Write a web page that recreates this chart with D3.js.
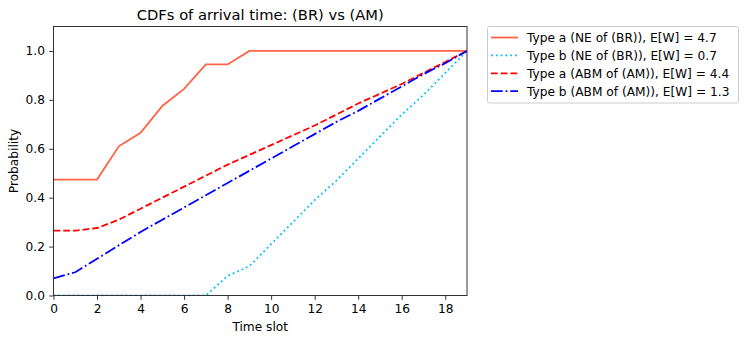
<!DOCTYPE html>
<html>
<head>
<meta charset="utf-8">
<script src="https://cdn.jsdelivr.net/npm/d3@7"></script>
<style>
  body { margin: 0; background: #fff; }
  svg { display: block; font-family: "DejaVu Sans", sans-serif; }
</style>
</head>
<body>
<svg id="chart" width="748" height="342"></svg>
<script>
const slots = d3.range(0, 20);
const typeA_NE  = [0.474, 0.474, 0.474, 0.61, 0.665, 0.775, 0.845, 0.945, 0.945, 1, 1, 1, 1, 1, 1, 1, 1, 1, 1, 1];
const typeB_NE  = [0, 0, 0, 0, 0, 0, 0, 0, 0.08, 0.12, 0.21, 0.30, 0.39, 0.47, 0.56, 0.65, 0.74, 0.82, 0.91, 1.0];
const typeA_ABM = [0.265, 0.265, 0.276, 0.31, 0.355, 0.40, 0.445, 0.49, 0.535, 0.575, 0.615, 0.655, 0.695, 0.74, 0.785, 0.825, 0.865, 0.91, 0.955, 1.0];
const typeB_ABM = [0.07, 0.095, 0.15, 0.205, 0.26, 0.31, 0.36, 0.41, 0.46, 0.51, 0.56, 0.61, 0.66, 0.71, 0.755, 0.805, 0.855, 0.905, 0.95, 1.0];
const seriesNames = [
  "Type a (NE of (BR)), E[W] = 4.7",
  "Type b (NE of (BR)), E[W] = 0.7",
  "Type a (ABM of (AM)), E[W] = 4.4",
  "Type b (ABM of (AM)), E[W] = 1.3"
];
const xTicks = [0, 2, 4, 6, 8, 10, 12, 14, 16, 18];
const yTicks = [0.0, 0.2, 0.4, 0.6, 0.8, 1.0];

const series = [
  { name: seriesNames[0], values: typeA_NE,  color: "#ff6347", dash: null },
  { name: seriesNames[1], values: typeB_NE,  color: "#00bfff", dash: "1.8,3" },
  { name: seriesNames[2], values: typeA_ABM, color: "#ff0000", dash: "6.8,2.9" },
  { name: seriesNames[3], values: typeB_ABM, color: "#0000ff", dash: "11.7,2.9,1.8,2.9" }
];

const svg = d3.select("#chart");
const L = 53.5, R = 467, T = 26.5, B = 295.5;
const x = d3.scaleLinear().domain([0, 19]).range([L, R]);
const y = d3.scaleLinear().domain([0, 1.1]).range([B, T]);

svg.append("defs").append("clipPath").attr("id", "clip")
  .append("rect").attr("x", L).attr("y", T).attr("width", R - L).attr("height", B - T);

const line = d3.line().x((d, i) => x(slots[i])).y(d => y(d));
const g = svg.append("g").attr("clip-path", "url(#clip)");
series.forEach(s => {
  g.append("path").datum(s.values)
    .attr("d", line)
    .attr("fill", "none")
    .attr("stroke", s.color)
    .attr("stroke-width", 1.8)
    .attr("stroke-dasharray", s.dash);
});

// axes
const xAxis = svg.append("g").attr("transform", `translate(0,${B})`)
  .call(d3.axisBottom(x).tickValues(xTicks).tickSize(4.3).tickPadding(4.3).tickFormat(d3.format("d")));
const yAxis = svg.append("g").attr("transform", `translate(${L},0)`)
  .call(d3.axisLeft(y).tickValues(yTicks).tickSize(4.3).tickPadding(4.3).tickFormat(d3.format(".1f")));
[xAxis, yAxis].forEach(a => {
  a.select(".domain").remove();
  a.selectAll("line").attr("stroke", "#333").attr("stroke-width", 1);
  a.selectAll("text").attr("font-family", "DejaVu Sans").attr("font-size", 12.2).attr("fill", "#000");
});

// frame
svg.append("rect").attr("x", L).attr("y", T).attr("width", R - L).attr("height", B - T)
  .attr("fill", "none").attr("stroke", "#333").attr("stroke-width", 1);

// labels
svg.append("text").attr("x", (L + R) / 2).attr("y", 20).attr("text-anchor", "middle")
  .attr("font-size", 14.7).text("CDFs of arrival time: (BR) vs (AM)");
svg.append("text").attr("x", (L + R) / 2).attr("y", 331).attr("text-anchor", "middle")
  .attr("font-size", 12.2).text("Time slot");
svg.append("text").attr("transform", `translate(18,${(T + B) / 2}) rotate(-90)`).attr("text-anchor", "middle")
  .attr("font-size", 12.2).text("Probability");

// legend
const lg = svg.append("g");
lg.append("rect").attr("x", 487.5).attr("y", 26.5).attr("width", 251).attr("height", 76.5)
  .attr("rx", 2).attr("fill", "#fff").attr("stroke", "#ccc").attr("stroke-width", 1);
series.forEach((s, i) => {
  const yy = 37.5 + i * 17.9;
  lg.append("line").attr("x1", 491).attr("x2", 518).attr("y1", yy).attr("y2", yy)
    .attr("stroke", s.color).attr("stroke-width", 1.8).attr("stroke-dasharray", s.dash);
  lg.append("text").attr("x", 527).attr("y", yy + 4.4).attr("font-size", 12.2).text(s.name);
});
</script>
</body>
</html>
